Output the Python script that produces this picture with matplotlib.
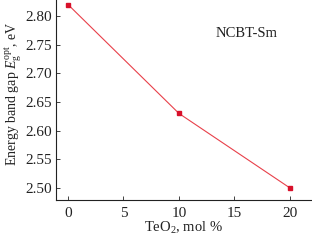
import matplotlib.pyplot as plt

teo2 = [0, 10, 20]
gap = [2.82, 2.63, 2.50]
xticks = [0, 5, 10, 15, 20]
yticks = [2.50, 2.55, 2.60, 2.65, 2.70, 2.75, 2.80]

plt.rcParams["font.family"] = "Liberation Serif"
plt.rcParams["mathtext.fontset"] = "custom"
plt.rcParams["mathtext.rm"] = "Liberation Serif"
plt.rcParams["mathtext.it"] = "Liberation Serif:italic"

fig = plt.figure(figsize=(3.12, 2.4), dpi=100)
ax = fig.add_axes([0.179, 0.167, 0.821, 0.833])

ax.plot(teo2, gap, color="#e8404a", lw=0.8, marker="s", ms=3.5,
        mfc="#d8102a", mec="#d8102a")

ax.set_xlim(-1.1, 22)
ax.set_ylim(2.479, 2.828)
ax.set_xticks(xticks)
ax.set_yticks(yticks)
ax.set_yticklabels([f"{v:.2f}" for v in yticks])
ax.tick_params(direction="in", length=3, width=0.6, labelsize=11, colors="#222222")
ax.tick_params(axis="x", pad=5)
ax.tick_params(axis="y", pad=3)
for s in ["top", "right"]:
    ax.spines[s].set_visible(False)
for s in ["left", "bottom"]:
    ax.spines[s].set_linewidth(0.8)
    ax.spines[s].set_color("#222222")

ax.set_xlabel(r"TeO$_2$, mol %", fontsize=10.5, labelpad=0, color="#222222")
ax.set_ylabel(r"Energy band gap $E_\mathrm{g}^\mathrm{opt}$, eV", fontsize=10,
              labelpad=0, color="#222222")
ax.yaxis.set_label_coords(-0.125, 0.53)
ax.text(16.1, 2.77, "NCBT-Sm", fontsize=10.5, ha="center", va="center", color="#222222")

fig.savefig("out.png", dpi=100)
